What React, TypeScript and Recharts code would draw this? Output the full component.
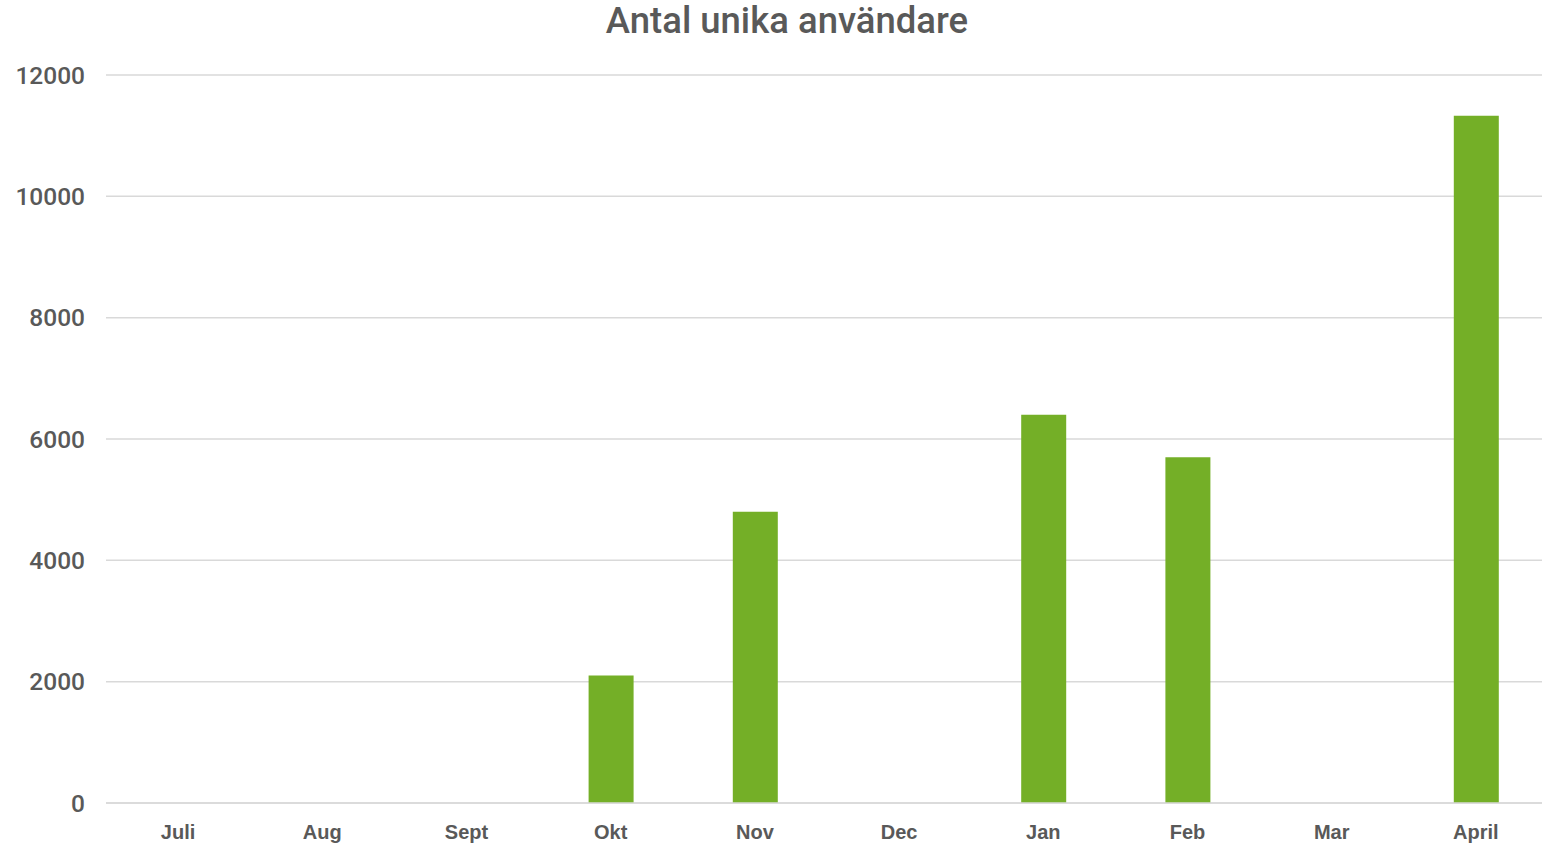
import React from 'react';
import { BarChart, Bar, XAxis, YAxis, CartesianGrid } from 'recharts';

// månader och antal unika användare
const months = ['Juli', 'Aug', 'Sept', 'Okt', 'Nov', 'Dec', 'Jan', 'Feb', 'Mar', 'April'];
const users = [0, 0, 0, 2100, 4800, 0, 6400, 5700, 0, 11330];
const yTicks = [0, 2000, 4000, 6000, 8000, 10000, 12000];

const data = months.map((m, i) => ({ name: m, users: users[i] }));

const textColor = '#595959';
const font = '"Liberation Sans", Arial, sans-serif';
const titleFont = 'Roboto, "Liberation Sans", sans-serif';

const App: React.FC = () => {
  return (
    <div style={{ position: 'absolute', left: 0, top: 0, width: 1542, height: 847, overflow: 'hidden', background: '#fff', fontFamily: font }}>
      <div
        style={{
          position: 'absolute',
          left: 787,
          top: -1,
          transform: 'translateX(-50%)',
          fontSize: 36.5,
          fontWeight: 500,
          fontFamily: titleFont,
          color: textColor,
          whiteSpace: 'nowrap',
          lineHeight: '44px',
        }}
      >
        Antal unika användare
      </div>
      <BarChart
        width={1548}
        height={847}
        data={data}
        margin={{ top: 75, right: 0, left: 0, bottom: 0 }}
      >
        <CartesianGrid vertical={false} stroke="#d9d9d9" strokeWidth={1.5} />
        <XAxis
          dataKey="name"
          height={44}
          axisLine={{ stroke: '#d9d9d9', strokeWidth: 1.5 }}
          tickLine={false}
          tickSize={0}
          tickMargin={22}
          interval={0}
          tick={{ fontSize: 20, fill: textColor, fontFamily: font, fontWeight: 600 }}
        />
        <YAxis
          width={106}
          domain={[0, 12000]}
          ticks={yTicks}
          axisLine={false}
          tickLine={false}
          tickSize={0}
          tickMargin={21}
          tick={{ fontSize: 24.5, fill: textColor, fontFamily: titleFont, fontWeight: 500 }}
        />
        <Bar dataKey="users" fill="#74af27" barSize={45} isAnimationActive={false} />
      </BarChart>
    </div>
  );
};

export default App;
